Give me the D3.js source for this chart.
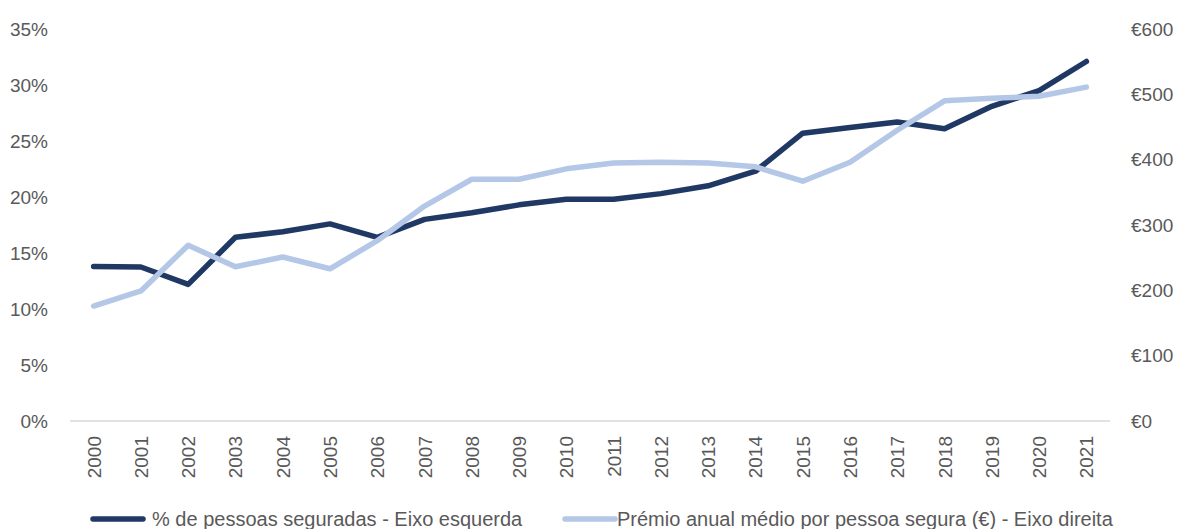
<!DOCTYPE html>
<html>
<head>
<meta charset="utf-8">
<script src="https://cdn.jsdelivr.net/npm/d3@7"></script>
<style>
  body { margin: 0; background: #fff; }
  svg text { font-family: "Liberation Sans Narrow", "Arial Narrow", "Liberation Sans", sans-serif; fill: #595959; }
</style>
</head>
<body>
<svg id="chart" width="1177" height="529"></svg>
<script>
const years = ["2000","2001","2002","2003","2004","2005","2006","2007","2008","2009","2010",
               "2011","2012","2013","2014","2015","2016","2017","2018","2019","2020","2021"];
// % de pessoas seguradas (left axis)
const pctInsured = [13.8, 13.75, 12.2, 16.4, 16.9, 17.6, 16.4, 18.0, 18.6, 19.3, 19.8,
                    19.8, 20.3, 21.0, 22.3, 25.7, 26.2, 26.7, 26.1, 28.1, 29.5, 32.1];
// Prémio anual médio por pessoa segura (right axis)
const avgPremium = [176, 199, 269, 236, 251, 233, 276, 329, 370, 370, 386,
                    395, 396, 395, 389, 367, 396, 445, 490, 494, 497, 511];
const leftTicks = [0, 5, 10, 15, 20, 25, 30, 35];
const rightTicks = [0, 100, 200, 300, 400, 500, 600];
const seriesNames = ["% de pessoas seguradas - Eixo esquerda", "Prémio anual médio por pessoa segura (€) - Eixo direita"];
const colors = ["#203864", "#b4c7e7"];

const svg = d3.select("#chart");
const plotLeft = 70, plotRight = 1110, plotTop = 29, plotBottom = 421;

const x = d3.scaleBand().domain(years).range([plotLeft, plotRight]);
const yL = d3.scaleLinear().domain([0, 35]).range([plotBottom, plotTop]);
const yR = d3.scaleLinear().domain([0, 600]).range([plotBottom, plotTop]);

// baseline
svg.append("line")
    .attr("x1", plotLeft).attr("x2", plotRight)
    .attr("y1", plotBottom).attr("y2", plotBottom)
    .attr("stroke", "#d9d9d9").attr("stroke-width", 1.3);

// left axis labels
svg.append("g").selectAll("text")
    .data(leftTicks).enter().append("text")
    .attr("x", 48).attr("y", d => yL(d))
    .attr("dy", "0.35em")
    .attr("text-anchor", "end")
    .style("font-size", "19px")
    .text(d => d + "%");

// right axis labels
svg.append("g").selectAll("text")
    .data(rightTicks).enter().append("text")
    .attr("x", 1131).attr("y", d => yR(d))
    .attr("dy", "0.35em")
    .style("font-size", "19px")
    .text(d => "€" + d);

// year labels rotated
svg.append("g").selectAll("text")
    .data(years).enter().append("text")
    .attr("transform", d => `translate(${x(d) + x.bandwidth() / 2 + 7},436) rotate(-90)`)
    .attr("text-anchor", "end")
    .style("font-size", "19px")
    .text(d => d);

const lineL = d3.line().x((d, i) => x(years[i]) + x.bandwidth() / 2).y(d => yL(d));
const lineR = d3.line().x((d, i) => x(years[i]) + x.bandwidth() / 2).y(d => yR(d));

svg.append("path")
    .attr("d", lineL(pctInsured))
    .attr("fill", "none").attr("stroke", colors[0])
    .attr("stroke-width", 5.5).attr("stroke-linecap", "round").attr("stroke-linejoin", "round");

svg.append("path")
    .attr("d", lineR(avgPremium))
    .attr("fill", "none").attr("stroke", colors[1])
    .attr("stroke-width", 5.5).attr("stroke-linecap", "round").attr("stroke-linejoin", "round");

// legend
const legendX = [93, 565];
seriesNames.forEach((name, i) => {
    const g = svg.append("g").attr("transform", `translate(${legendX[i]},519)`);
    g.append("line")
        .attr("x1", 0).attr("x2", 50)
        .attr("stroke", colors[i]).attr("stroke-width", 5.5).attr("stroke-linecap", "round");
    g.append("text")
        .attr("x", i === 0 ? 59 : 52).attr("dy", "0.35em")
        .style("font-size", "20px")
        .text(name);
});
</script>
</body>
</html>
